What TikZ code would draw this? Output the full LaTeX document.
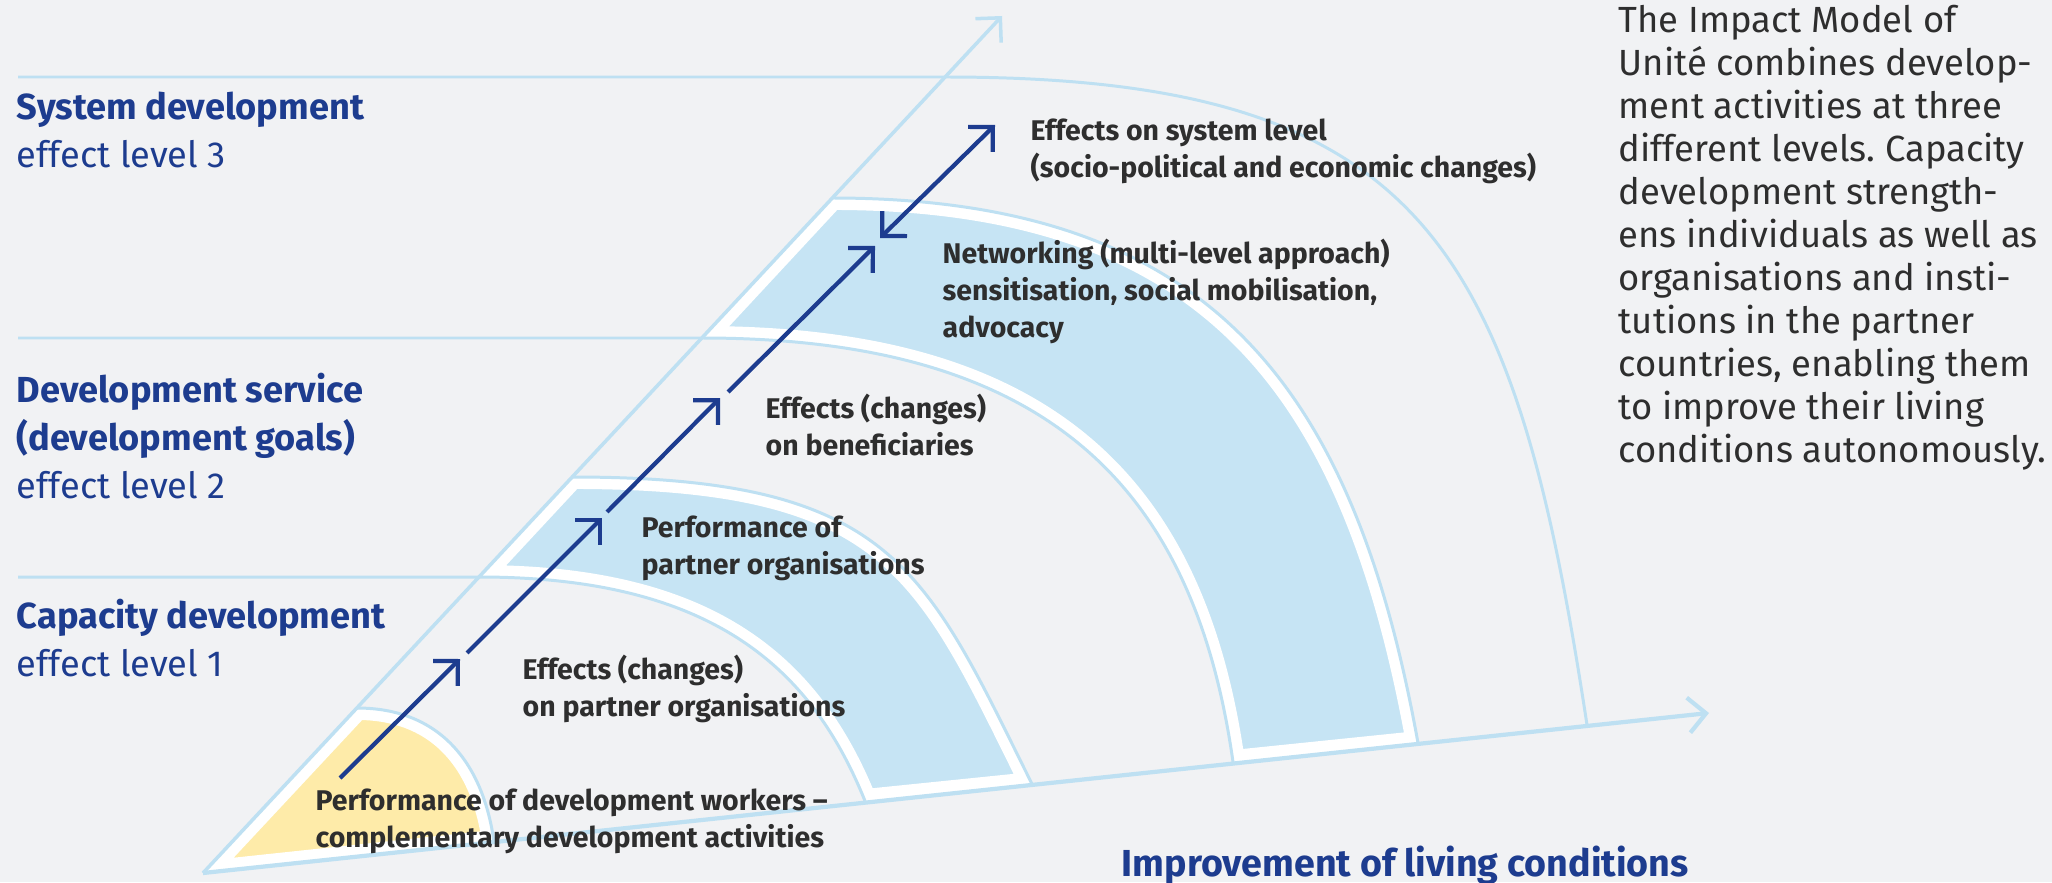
\documentclass[tikz,border=0pt]{standalone}
\usepackage{fontspec}
\setmainfont{Fira Sans}
\usetikzlibrary{arrows.meta}
\frenchspacing

\definecolor{bggrey}{HTML}{F1F2F4}
\definecolor{lineblue}{HTML}{BEE0F2}
\definecolor{fillblue}{HTML}{C6E4F4}
\definecolor{fillyellow}{HTML}{FEEBA9}
\definecolor{darkblue}{HTML}{1D3C8F}
\definecolor{textgrey}{HTML}{2E2E2E}

\tikzset{
  arcline/.style={draw=lineblue, line width=0.85pt},
  rayline/.style={draw=lineblue, line width=1pt, -{Straight Barb[length=5pt,width=10pt]}},
  effect/.style={draw=darkblue, line width=1.2pt, -{Straight Barb[length=5pt,width=10pt]}},
  whiteband/.style={draw=white, line width=6.8pt},
  heading/.style={anchor=base west, inner sep=0pt, align=left, text=darkblue, font=\fontsize{10.3}{13.6}\selectfont},
  effecttext/.style={anchor=base west, inner sep=0pt, align=left, text=textgrey, font=\bfseries\fontsize{8.1}{10.5}\selectfont},
  sidetext/.style={anchor=base west, inner sep=0pt, align=left, text=textgrey, font=\fontsize{10.35}{12.2}\selectfont}
}

\begin{document}
\begin{tikzpicture}[x=0.01cm, y=-0.01cm]
  \useasboundingbox (0,0) rectangle (2052,882);
  \fill[bggrey] (0,0) rectangle (2052,882);

  % the two axes
  \coordinate (apex) at (203,873);
  \coordinate (ytip) at (1002,16);
  \coordinate (xtip) at (1709,713);

  % level lines and arcs
  \coordinate (l1) at (18,77);
  \coordinate (l2) at (18,338);
  \coordinate (l3) at (18,577);
  \coordinate (o4t) at (945,77);
  \coordinate (o4b) at (1587,725);
  \coordinate (r3ot) at (832,198);
  \coordinate (r3ob) at (1418,743);
  \coordinate (r3it) at (702,338);
  \coordinate (r3ib) at (1233,762);
  \coordinate (r2ot) at (572,477);
  \coordinate (r2ob) at (1032,784);
  \coordinate (r2it) at (479,577);
  \coordinate (r2ib) at (865,801);
  \coordinate (y1t) at (357,708);
  \coordinate (y1b) at (494,842);

  % filled zones
  \begin{scope}
    \clip (apex) -- (y1t) .. controls (439,708) and (483,762) .. (y1b) -- cycle;
    \fill[fillyellow] (0,0) rectangle (2052,882);
    \draw[whiteband] (apex) -- (y1t) .. controls (439,708) and (483,762) .. (y1b) -- cycle;
  \end{scope}
  \begin{scope}
    \clip (r2it) -- (r2ot) .. controls (894,477) and (925,569) .. (r2ob)
      -- (r2ib) .. controls (811,667) and (711,577) .. (r2it) -- cycle;
    \fill[fillblue] (0,0) rectangle (2052,882);
    \draw[whiteband] (r2it) -- (r2ot) .. controls (894,477) and (925,569) .. (r2ob)
      -- (r2ib) .. controls (811,667) and (711,577) .. (r2it) -- cycle;
  \end{scope}
  \begin{scope}
    \clip (r3it) -- (r3ot) .. controls (1213,198) and (1354,389) .. (r3ob)
      -- (r3ib) .. controls (1194,486) and (1047,338) .. (r3it) -- cycle;
    \fill[fillblue] (0,0) rectangle (2052,882);
    \draw[whiteband] (r3it) -- (r3ot) .. controls (1213,198) and (1354,389) .. (r3ob)
      -- (r3ib) .. controls (1194,486) and (1047,338) .. (r3it) -- cycle;
  \end{scope}

  \draw[arcline] (l1) -- (o4t) .. controls (1425,77) and (1514,245) .. (o4b);
  \draw[arcline] (l2) -- (r3it) .. controls (1047,338) and (1194,486) .. (r3ib);
  \draw[arcline] (l3) -- (r2it) .. controls (711,577) and (811,667) .. (r2ib);
  \draw[arcline] (r3ot) .. controls (1213,198) and (1354,389) .. (r3ob);
  \draw[arcline] (r2ot) .. controls (894,477) and (925,569) .. (r2ob);
  \draw[arcline] (y1t) .. controls (439,708) and (483,762) .. (y1b);

  \draw[rayline] (apex) -- (ytip);
  \draw[rayline, line width=1.2pt] (apex) -- (xtip);

  % effect chain
  \coordinate (s0) at (340,778);
  \coordinate (s1) at (460,659);
  \coordinate (s2) at (467,653);
  \coordinate (s3) at (602,518);
  \coordinate (s4) at (607,512);
  \coordinate (s5) at (720,398);
  \coordinate (s6) at (728,392);
  \coordinate (s7) at (875,246);
  \coordinate (s8) at (880,238);
  \coordinate (s9) at (995,125);
  \draw[effect] (s0) -- (s1);
  \draw[effect] (s2) -- (s3);
  \draw[effect] (s4) -- (s5);
  \draw[effect] (s6) -- (s7);
  \draw[effect, {Straight Barb[length=5pt,width=10pt]}-{Straight Barb[length=5pt,width=10pt]}] (s8) -- (s9);

  % texts (placed at the baseline of their last line)
  \node[heading] (sysdev) at (16,167) {\textbf{System development}\\effect level 3};
  \node[heading] (devserv) at (16,498) {\textbf{Development service}\\\textbf{(development goals)}\\effect level 2};
  \node[heading] (capdev) at (16,676) {\textbf{Capacity development}\\effect level 1};
  \node[heading, font=\bfseries\fontsize{10.7}{13.6}\selectfont] (living) at (1121,876) {Improvement of living conditions};

  \node[effecttext] (sysfx) at (1030,177) {Effects on system level\\(socio-political and economic changes)};
  \node[effecttext] (network) at (942,337) {Networking (multi-level approach)\\sensitisation, social mobilisation,\\advocacy};
  \node[effecttext] (benefx) at (765,455) {Effects (changes)\\on beneficiaries};
  \node[effecttext] (partperf) at (641,574) {Performance of\\partner organisations};
  \node[effecttext] (partfx) at (522,716) {Effects (changes)\\on partner organisations};
  \node[effecttext] (workperf) at (315,847) {Performance of development workers --\\complementary development activities};

  \node[sidetext] (impact) at (1618,462) {The Impact Model of\\Unité combines develop-\\ment activities at three\\different levels. Capacity\\development strength-\\ens individuals as well as\\organisations and insti-\\tutions in the partner\\countries, enabling them\\to improve their living\\conditions autonomously.};
\end{tikzpicture}
\end{document}
